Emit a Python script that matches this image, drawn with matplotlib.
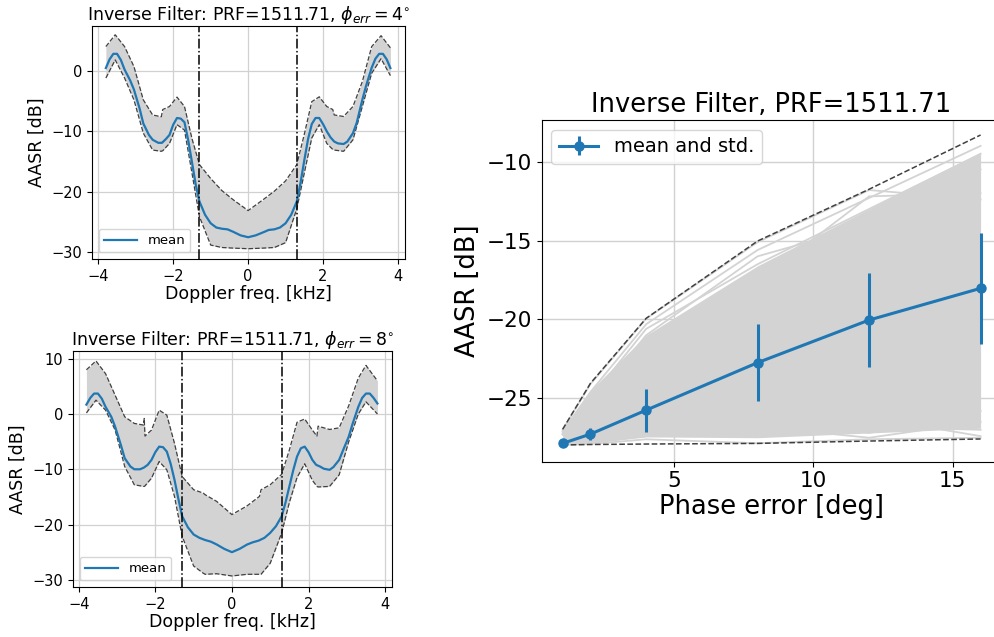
import numpy as np
import matplotlib
matplotlib.use("Agg")
import matplotlib.pyplot as plt

# ---- Doppler-domain AASR, phi_err = 4 deg ----
f4 = [-3.8, -3.55, -3.3, -3.05, -2.8, -2.55, -2.32, -2.28, -2.1, -1.9, -1.7, -1.5, -1.3,
      -1.0, -0.7, -0.4, 0.0, 0.4, 0.7, 1.0, 1.3, 1.5, 1.7, 1.9, 2.1, 2.26, 2.3, 2.55,
      2.8, 3.05, 3.3, 3.55, 3.8]
up4 = [4.0, 5.95, 4.0, 0.7, -4.8, -7.3, -7.6, -6.4, -5.9, -4.35, -5.9, -11.2, -15.5,
       -17.8, -19.8, -21.3, -23.1, -21.3, -19.9, -18.2, -15.5, -10.5, -5.1, -4.3, -5.9,
       -6.4, -7.3, -7.55, -5.9, -1.8, 4.0, 5.8, 3.8]
lo4 = [-1.2, 1.8, -1.2, -4.8, -10.3, -13.1, -13.3, -13.2, -12.0, -8.9, -9.8, -16.9, -24.1,
       -28.8, -29.2, -29.3, -29.4, -29.3, -29.2, -28.4, -22.8, -16.9, -11.1, -8.9, -12.0,
       -13.0, -13.1, -13.3, -11.4, -5.9, -0.4, 2.0, -0.8]

fm = [-3.8, -3.7, -3.6, -3.5, -3.4, -3.3, -3.15, -3.05, -2.9, -2.8, -2.65, -2.55, -2.4,
      -2.3, -2.2, -2.1, -2.0, -1.9, -1.8, -1.7, -1.6, -1.5, -1.4, -1.3, -1.15, -1.0,
      -0.85, -0.7, -0.55, -0.4, -0.2, 0.0, 0.2, 0.4, 0.55, 0.7, 0.85, 1.0, 1.15, 1.3,
      1.4, 1.5, 1.6, 1.7, 1.8, 1.9, 2.0, 2.1, 2.2, 2.3, 2.4, 2.55, 2.65, 2.8, 2.9, 3.05,
      3.15, 3.3, 3.4, 3.5, 3.6, 3.7, 3.8]
mean4 = [0.45, 1.9, 2.8, 2.8, 1.8, 0.2, -1.6, -3.1, -6.2, -8.7, -10.6, -11.4, -11.9,
         -11.9, -11.3, -10.6, -8.9, -7.8, -7.9, -8.5, -11.5, -15.1, -18.8, -21.6, -23.8,
         -25.2, -25.9, -26.1, -26.2, -26.6, -27.2, -27.5, -27.2, -26.7, -26.3, -26.2,
         -25.9, -25.2, -23.8, -21.6, -18.5, -14.8, -11.3, -8.8, -7.8, -7.8, -8.8, -10.0,
         -11.0, -11.7, -12.0, -12.1, -11.7, -10.3, -8.6, -4.8, -2.5, 0.5, 2.0, 2.8, 2.8,
         1.9, 0.45]

# ---- Doppler-domain AASR, phi_err = 8 deg ----
f8 = [-3.8, -3.55, -3.3, -3.05, -2.8, -2.55, -2.31, -2.29, -2.27, -2.1, -1.9, -1.7, -1.5,
      -1.3, -1.0, -0.75, -0.7, -0.4, 0.0, 0.4, 0.72, 0.76, 1.0, 1.3, 1.5, 1.7, 1.9, 2.1,
      2.22, 2.25, 2.55, 2.8, 3.05, 3.3, 3.5, 3.8]
up8 = [8.0, 9.6, 7.3, 3.4, -0.5, -1.7, -2.0, -0.8, -4.0, -2.9, 0.7, -0.2, -5.3,
       -11.3, -13.7, -14.3, -14.6, -15.8, -18.2, -16.6, -14.9, -13.7, -12.8, -10.9, -6.5,
       -1.5, -0.9, -2.9, -4.0, -2.2, -2.8, -2.5, 1.5, 6.5, 8.8, 6.0]
lo8 = [0.2, 2.5, 0.7, -2.9, -9.5, -12.8, -13.1, -13.1, -13.0, -11.6, -8.6, -10.1, -14.9,
       -22.1, -27.5, -28.8, -29.0, -28.9, -29.3, -29.0, -29.0, -29.0, -27.0, -21.5, -16.0,
       -11.5, -9.0, -12.0, -13.1, -13.2, -13.1, -11.0, -5.0, 0.0, 2.2, 0.0]
mean8 = [1.7, 2.9, 3.7, 3.7, 2.8, 1.3, -0.5, -2.3, -5.6, -8.0, -9.5, -10.0, -10.0,
         -9.7, -9.2, -8.3, -6.9, -5.9, -6.0, -6.8, -9.0, -11.9, -15.3, -18.5, -20.5,
         -21.8, -22.4, -22.8, -23.1, -23.6, -24.4, -25.0, -24.4, -23.6, -23.2, -22.9,
         -22.4, -21.5, -20.3, -18.5, -16.0, -13.1, -10.2, -7.7, -6.2, -5.9, -6.9, -8.3,
         -9.2, -9.5, -9.9, -10.1, -9.6, -8.3, -6.6, -4.1, -1.8, 1.3, 2.9, 3.7, 3.7,
         2.9, 1.9]

band_edge = 1.3  # kHz

# ---- AASR vs phase error ----
phase = [1, 2, 4, 8, 12, 16]
aasr_mean = [-27.86, -27.27, -25.75, -22.74, -20.04, -18.03]
aasr_std = [0.05, 0.37, 1.36, 2.46, 3.0, 3.52]
aasr_max = [-26.97, -24.05, -19.93, -15.03, -11.75, -8.31]
aasr_min = [-27.96, -27.93, -27.9, -27.86, -27.71, -27.58]
core_hi = [-27.05, -24.5, -21.0, -16.6, -13.0, -9.4]
core_lo = [-27.92, -27.85, -27.45, -27.5, -27.2, -26.9]
runs = [
    [-27.0, -24.1, -19.95, -15.1, -11.8, -12.4],
    [-27.1, -24.6, -20.3, -15.6, -12.3, -9.0],
    [-27.2, -25.0, -20.6, -16.5, -13.0, -9.5],
    [-27.3, -25.3, -21.0, -16.0, -14.0, -10.5],
    [-27.3, -25.4, -21.4, -17.6, -12.2, -12.0],
    [-27.95, -27.9, -27.6, -27.85, -27.6, -27.5],
    [-27.9, -27.8, -27.4, -27.3, -26.2, -27.4],
    [-27.9, -27.7, -27.0, -26.8, -27.5, -26.5],
    [-27.9, -27.6, -26.5, -26.0, -27.2, -25.8],
    [-27.9, -27.8, -27.3, -25.8, -26.8, -27.0],
]

blue = "#1f77b4"
gray = "#d3d3d3"
W, H = 995, 637

fig = plt.figure(figsize=(W / 100, H / 100), dpi=100)


def px_axes(l, t, r, b):
    return fig.add_axes([l / W, 1 - b / H, (r - l) / W, (b - t) / H])


def doppler_panel(ax, f, up, lo, m, phi, ylim, xlim):
    ax.fill_between(f, lo, up, color=gray, lw=0)
    ax.plot(f, up, "--", color="0.25", lw=0.9)
    ax.plot(f, lo, "--", color="0.25", lw=0.9)
    ax.plot(fm, m, color=blue, lw=1.6, label="mean")
    ax.axvline(-band_edge, color="k", ls="-.", lw=1.1)
    ax.axvline(band_edge, color="k", ls="-.", lw=1.1)
    ax.set_xlim(*xlim)
    ax.set_ylim(*ylim)
    ax.set_xticks([-4, -2, 0, 2, 4])
    ax.grid(True, color="0.82", lw=0.9)
    ax.set_axisbelow(True)
    ax.tick_params(labelsize=10.5)
    ax.set_xlabel("Doppler freq. [kHz]", fontsize=12.5, labelpad=1)
    ax.set_ylabel("AASR [dB]", fontsize=12.5)
    ax.set_title(r"Inverse Filter: PRF=1511.71, $\phi_{err} = %d^{\circ}$" % phi,
                 fontsize=12.5, pad=4)
    ax.legend(loc="lower left", fontsize=9.5, handlelength=2.5)


ax1 = px_axes(92, 26, 405, 259)
doppler_panel(ax1, f4, up4, lo4, mean4, 4, (-31.1, 7.4), (-4.17, 4.19))
ax1.set_yticks([0, -10, -20, -30])

ax2 = px_axes(73, 351, 392, 587)
doppler_panel(ax2, f8, up8, lo8, mean8, 8, (-31.3, 11.4), (-4.15, 4.18))
ax2.set_yticks([10, 0, -10, -20, -30])

ax3 = px_axes(541.7, 120, 1001.5, 461.7)
ax3.fill_between(phase, core_lo, core_hi, color=gray, lw=0)
for r in runs:
    ax3.plot(phase, r, color=gray, lw=1.3)
ax3.plot(phase, aasr_max, "--", color="0.25", lw=1.1)
ax3.plot(phase, aasr_min, "--", color="0.25", lw=1.1)
ax3.errorbar(phase, aasr_mean, yerr=aasr_std, color=blue, marker="o", ms=6.5,
             lw=2.2, elinewidth=2.2, label="mean and std.")
ax3.set_xlim(0.25, 16.75)
ax3.set_ylim(-29.02, -7.36)
ax3.set_xticks([5, 10, 15])
ax3.set_yticks([-10, -15, -20, -25])
ax3.grid(True, color="0.82", lw=1.0)
ax3.set_axisbelow(True)
ax3.tick_params(labelsize=15.5)
ax3.set_xlabel("Phase error [deg]", fontsize=18.5, labelpad=2)
ax3.set_ylabel("AASR [dB]", fontsize=18.5)
ax3.set_title("Inverse Filter, PRF=1511.71", fontsize=18.5, pad=6)
ax3.legend(loc="upper left", fontsize=14)

fig.savefig("out.png", dpi=100)
